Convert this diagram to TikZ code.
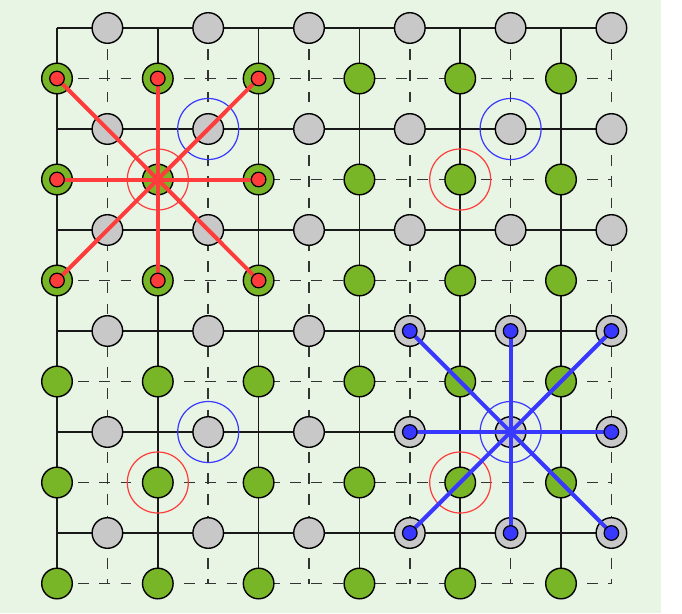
\documentclass[tikz,border=0pt]{standalone}
\definecolor{bgc}{RGB}{232,244,228}
\definecolor{gfill}{RGB}{120,182,40}
\definecolor{qfill}{RGB}{200,200,200}
\definecolor{rc}{RGB}{255,60,60}
\definecolor{bc}{RGB}{56,56,255}
\tikzset{
  solidline/.style={line width=1.7pt, black!90},
  dashline/.style={line width=1.7pt, black!80, dash pattern=on 10.6pt off 10.6pt},
  gnode/.style={circle, draw=black, line width=1.4pt, fill=gfill, minimum size=30.6pt, inner sep=0pt},
  qnode/.style={circle, draw=black, line width=1.4pt, fill=qfill, minimum size=30.6pt, inner sep=0pt},
  rring/.style={circle, draw=rc, line width=1.2pt, minimum size=61pt, inner sep=0pt},
  bring/.style={circle, draw=bc, line width=1.2pt, minimum size=61pt, inner sep=0pt},
  rline/.style={draw=rc, line width=4pt},
  bline/.style={draw=bc, line width=4pt},
  rdot/.style={circle, draw=black, line width=1.2pt, fill=rc, minimum size=14.6pt, inner sep=0pt},
  bdot/.style={circle, draw=black, line width=1.2pt, fill=bc, minimum size=14.6pt, inner sep=0pt}
}
\begin{document}
\begin{tikzpicture}[x=1pt,y=-1pt]
\useasboundingbox (0,0) rectangle (682,613);
\fill[bgc] (0,0) rectangle (661,613);
% lattice points
\foreach \i in {0,...,11}{
  \foreach \j in {0,...,11}{
    \coordinate (p-\i-\j) at ({57+50.4*\i},{28+50.5*\j});
  }
}
% solid lines
\foreach \j in {0,2,...,10}{ \draw[solidline] (p-0-\j) -- (p-11-\j); }
\foreach \i in {0,2,...,10}{ \draw[solidline] (p-\i-0) -- (p-\i-11); }
% dashed lines
\foreach \j in {1,3,...,11}{ \draw[dashline] (p-0-\j) -- (p-11-\j); }
\foreach \i in {1,3,...,11}{ \draw[dashline] (p-\i-0) -- (p-\i-11); }
% green nodes
\foreach \i in {0,2,...,10}{
  \foreach \j in {1,3,...,11}{
    \node[gnode] (g-\i-\j) at (p-\i-\j) {};
  }
}
% gray nodes
\foreach \i in {1,3,...,11}{
  \foreach \j in {0,2,...,10}{
    \node[qnode] (q-\i-\j) at (p-\i-\j) {};
  }
}
% rings
\foreach \a/\b in {2/3,8/3,2/9,8/9}{ \node[rring] (rr-\a-\b) at (g-\a-\b) {}; }
\foreach \a/\b in {3/2,9/2,3/8,9/8}{ \node[bring] (br-\a-\b) at (q-\a-\b) {}; }
% red star
\foreach \a/\b in {0/1,2/1,4/1,0/3,4/3,0/5,2/5,4/5}{
  \draw[rline] (g-2-3.center) -- (g-\a-\b.center);
}
\foreach \a/\b in {0/1,2/1,4/1,0/3,4/3,0/5,2/5,4/5}{
  \node[rdot] (rd-\a-\b) at (g-\a-\b) {};
}
% blue star
\foreach \a/\b in {7/6,9/6,11/6,7/8,11/8,7/10,9/10,11/10}{
  \draw[bline] (q-9-8.center) -- (q-\a-\b.center);
}
\foreach \a/\b in {7/6,9/6,11/6,7/8,11/8,7/10,9/10,11/10}{
  \node[bdot] (bd-\a-\b) at (q-\a-\b) {};
}
\end{tikzpicture}
\end{document}
